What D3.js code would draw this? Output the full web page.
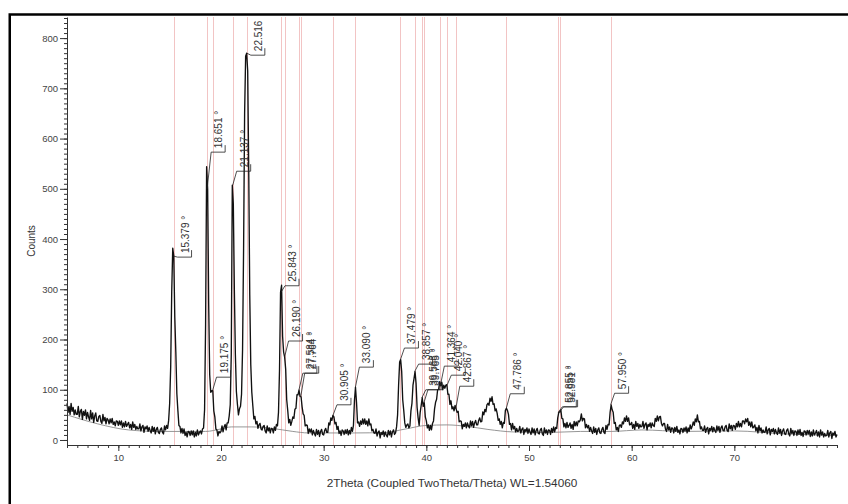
<!DOCTYPE html>
<html>
<head>
<meta charset="utf-8">
<script src="https://cdn.jsdelivr.net/npm/d3@7"></script>
<style>
  body { margin: 0; background: #fff; }
  svg { display: block; }
  text { font-family: "Liberation Sans", Arial, sans-serif; }
</style>
</head>
<body>
<svg id="chart" width="848" height="504"></svg>
<script>
// Diffraction scan: 2θ from 5° to 80° in 0.1° steps
const scanStart = 5;
const scanStep = 0.1;
const counts = [
  73,55,67,51,73,57,65,50,60,51,
  51,67,46,57,61,41,57,49,60,42,
  55,46,39,59,42,54,35,48,54,38,
  37,47,49,37,33,51,38,45,32,43,
  40,32,42,34,43,31,36,28,38,37,
  29,38,30,38,25,34,26,37,27,31,
  35,24,31,21,36,25,31,21,27,22,
  22,32,18,26,29,15,26,22,28,17,
  25,19,14,27,17,25,12,21,25,15,
  13,21,24,15,12,28,20,29,23,39,
  73,146,295,382,366,244,175,92,59,29,
  27,14,23,13,22,9,15,6,17,16,
  9,18,10,18,6,15,8,20,10,15,
  18,12,22,24,60,230,544,500,270,130,
  95,98,98,58,46,22,20,8,17,14,
  17,28,16,26,31,20,34,34,48,70,
  170,507,470,300,170,96,71,50,62,67,
  91,180,380,650,764,770,735,540,290,150,
  95,68,42,47,32,37,23,30,33,22,
  20,27,29,18,14,28,18,24,14,23,
  22,14,26,19,31,28,55,140,294,308,
  206,175,165,141,80,59,34,41,29,37,
  46,43,61,63,90,90,99,87,86,66,
  52,49,28,30,29,13,22,16,22,10,
  19,13,8,21,11,19,7,17,21,11,
  10,19,23,15,15,34,30,44,39,49,
  46,32,35,21,27,13,18,9,20,18,
  11,20,13,21,10,19,12,25,17,29,
  79,105,75,34,36,27,38,31,42,32,
  42,31,38,28,42,30,32,18,21,14,
  13,22,8,15,18,4,15,11,18,7,
  16,10,6,19,10,18,6,16,20,11,
  14,26,50,110,155,160,136,80,59,34,
  25,30,32,24,28,58,73,109,122,136,
  113,65,44,29,55,69,84,67,74,46,
  38,24,30,19,29,20,33,38,62,75,
  81,100,101,116,108,115,100,109,103,109,
  110,91,91,71,78,62,66,58,69,62,
  55,57,36,38,37,22,31,27,34,24,
  34,28,24,38,28,37,25,34,39,30,
  30,39,44,36,37,56,50,61,56,70,
  73,69,83,77,86,71,72,58,62,53,
  39,42,31,37,24,35,33,59,63,59,
  51,31,33,20,33,22,27,16,23,17,
  18,27,14,21,24,11,21,17,24,13,
  22,16,11,24,14,22,10,19,23,13,
  12,20,23,12,9,24,14,20,11,20,
  19,11,23,15,26,16,25,23,44,55,
  56,60,43,42,26,33,24,35,25,29,
  34,23,31,21,37,28,36,28,38,36,
  40,52,38,43,42,24,31,24,29,17,
  25,18,13,26,15,23,11,20,24,14,
  13,21,25,15,13,29,21,31,30,55,
  70,60,55,33,35,20,25,17,29,30,
  25,36,32,44,37,48,37,44,30,31,
  35,23,31,21,37,27,33,23,31,26,
  27,37,23,31,34,20,31,27,34,24,
  34,29,27,43,37,48,38,46,47,33,
  28,33,33,21,17,31,20,26,15,24,
  23,14,25,17,27,15,20,12,23,22,
  15,24,18,26,14,24,17,30,22,28,
  36,29,42,36,50,36,37,22,26,19,
  19,28,15,22,25,12,23,19,27,16,
  25,19,15,28,19,27,15,24,28,19,
  18,26,29,19,17,32,22,29,19,29,
  28,21,33,26,37,26,33,26,38,38,
  32,42,36,43,29,36,26,36,24,26,
  30,18,25,14,29,18,24,14,20,15,
  16,26,12,20,23,10,21,17,23,12,
  21,15,11,24,14,21,9,18,22,12,
  11,19,22,12,8,23,13,19,9,18,
  17,9,20,11,21,9,15,7,18,17,
  10,19,12,19,7,16,8,20,10,14,
  19,8,16,6,20,10,16,6,13,8,
  9,19,6,14,17,3,14,10,17,6,
  11
];

// Fitted background line
const bgAngles = [5, 8, 11, 14, 18.5, 20, 21, 23, 25, 27, 28.5, 30, 33, 36, 38, 40, 42, 44, 46, 48.5, 52, 55, 58, 61, 65, 70, 75, 80];
const bgCounts = [50, 32, 20, 17, 17, 22, 26, 26, 23, 17, 14, 14, 14, 15, 22, 29, 30, 27, 21, 16, 15, 17, 17, 20, 17, 18, 12, 9];

// Identified peaks: position, label text, label height (counts)
const peakAngles = [15.379, 18.651, 19.175, 21.137, 22.516, 25.843, 26.190, 27.584, 27.764, 30.905, 33.090,
                    37.479, 38.857, 39.563, 39.765, 41.364, 42.040, 42.867, 47.786, 52.855, 52.981, 57.950];
const peakLabels = ["15.379 °", "18.651 °", "19.175 °", "21.137 °", "22.516", "25.843 °", "26.190 °", "27.584 °",
                    "27.764 °", "30.905 °", "33.090 °", "37.479 °", "38.857 °", "39.563 °", "39.765 °", "41.364 °",
                    "42.040 °", "42.867 °", "47.786 °", "52.855 °", "52.981 °", "57.950 °"];
const peakLabelCounts = [364, 573, 125, 535, 766, 307, 197, 133, 133, 70, 145,
                         183, 151, 100, 100, 147, 129, 107, 92, 66, 66, 93];

const xTickValues = [10, 20, 30, 40, 50, 60, 70];
const yTickValues = [0, 100, 200, 300, 400, 500, 600, 700, 800];
const xTitle = "2Theta (Coupled TwoTheta/Theta) WL=1.54060";
const yTitle = "Counts";

const svg = d3.select("#chart");
const x = d3.scaleLinear().domain([5, 80]).range([67, 837]);
const y = d3.scaleLinear().domain([-10, 842]).range([445, 17]);

const scan = counts.map((c, i) => [scanStart + i * scanStep, c]);

// outer frame
svg.append("rect")
  .attr("x", 9.75).attr("y", 14.5)
  .attr("width", 900).attr("height", 600)
  .attr("fill", "none").attr("stroke", "#000").attr("stroke-width", 2.5);

// peak marker lines
svg.append("g").selectAll("line").data(peakAngles).join("line")
  .attr("x1", d => Math.round(x(d)) + 0.5).attr("x2", d => Math.round(x(d)) + 0.5)
  .attr("y1", y.range()[1]).attr("y2", y.range()[0])
  .attr("stroke", "#f2c4c4").attr("stroke-width", 1);

// background fit
svg.append("path")
  .datum(bgAngles.map((a, i) => [a, bgCounts[i]]))
  .attr("fill", "none").attr("stroke", "#8a8a8a").attr("stroke-width", 0.9)
  .attr("d", d3.line().x(d => x(d[0])).y(d => y(d[1])).curve(d3.curveMonotoneX));

// measured pattern
svg.append("path")
  .datum(scan)
  .attr("fill", "none").attr("stroke", "#111").attr("stroke-width", 1.35)
  .attr("stroke-linejoin", "round")
  .attr("d", d3.line().x(d => x(d[0])).y(d => y(d[1])));

// axes
const axisColor = "#333";
svg.append("g").attr("transform", "translate(67,0)")
  .call(d3.axisLeft(y).tickValues(yTickValues).tickSize(7).tickSizeOuter(0).tickPadding(2));
svg.append("g").attr("transform", "translate(67,0)")
  .call(d3.axisLeft(y).tickValues(d3.range(0, 841, 10)).tickSize(3).tickSizeOuter(0).tickFormat(""))
  .select(".domain").remove();
svg.append("g").attr("transform", "translate(0,445)")
  .call(d3.axisBottom(x).tickValues(xTickValues).tickSize(6).tickSizeOuter(0).tickPadding(3));
svg.append("g").attr("transform", "translate(0,445)")
  .call(d3.axisBottom(x).tickValues(d3.range(5, 81, 1)).tickSize(3).tickSizeOuter(0).tickFormat(""))
  .select(".domain").remove();

svg.selectAll(".domain, .tick line").attr("stroke", axisColor);
svg.selectAll(".tick text").attr("fill", "#444").style("font-size", "9.5px")
  .style("font-family", "'Liberation Sans', Arial, sans-serif");

// peak labels
const lab = svg.append("g").selectAll("g").data(peakAngles).join("g");
lab.append("path")
  .attr("fill", "none").attr("stroke", "#222").attr("stroke-width", 0.8)
  .attr("d", (d, i) => {
    const xp = x(d);
    const c0 = counts[Math.round((d - scanStart) / scanStep)];
    const yb = y(peakLabelCounts[i]);
    return `M${xp},${y(c0)}L${xp + 4},${yb}L${xp + 18},${yb}L${xp + 18},${yb - 7}`;
  });
lab.append("text")
  .attr("transform", (d, i) => `translate(${x(d) + 15},${y(peakLabelCounts[i]) - 4}) rotate(-90)`)
  .attr("fill", "#333").style("font-size", "10px")
  .text((d, i) => peakLabels[i]);

// titles
svg.append("text")
  .attr("x", 452).attr("y", 487).attr("text-anchor", "middle")
  .attr("fill", "#333").style("font-size", "11.8px")
  .text(xTitle);
svg.append("text")
  .attr("transform", "translate(35,241) rotate(-90)").attr("text-anchor", "middle")
  .attr("fill", "#333").style("font-size", "10px")
  .text(yTitle);
</script>
</body>
</html>
